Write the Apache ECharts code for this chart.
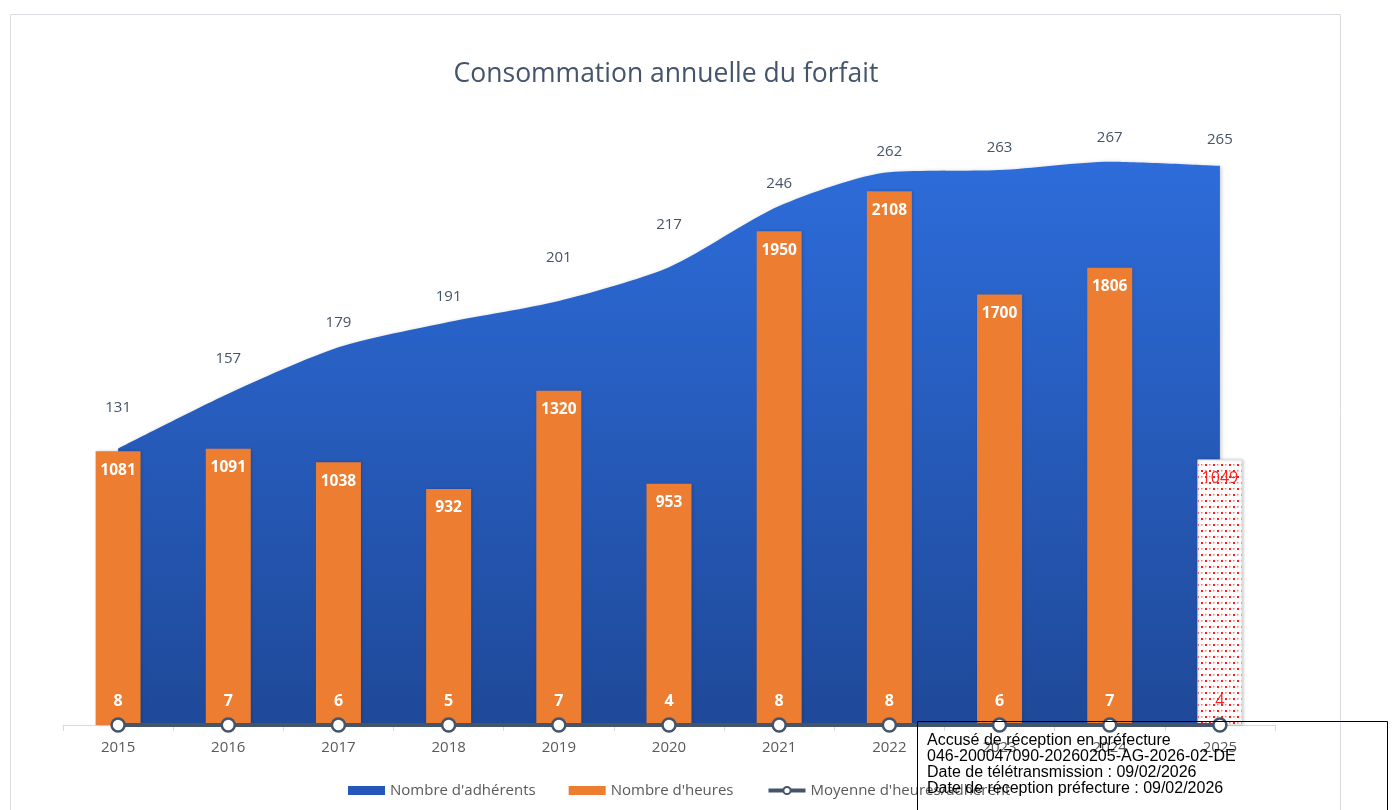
<!DOCTYPE html>
<html><head><meta charset="utf-8">
<script src="https://cdn.jsdelivr.net/npm/echarts@6/dist/echarts.min.js"></script>
<style>html,body{margin:0;padding:0;background:#fff}#c{width:1393px;height:810px}</style>
</head><body><div id="c"></div>
<script>
const years = ['2015','2016','2017','2018','2019','2020','2021','2022','2023','2024','2025'];
const adherents = [131,157,179,191,201,217,246,262,263,267,265];
const heures = [1081,1091,1038,932,1320,953,1950,2108,1700,1806,1049];
const moyenne = [8,7,6,5,7,4,8,8,6,7,4];
const stampLines = ['Accusé de réception en préfecture','046-200047090-20260205-AG-2026-02-DE','Date de télétransmission : 09/02/2026','Date de réception préfecture : 09/02/2026'];
// layout only: vertical nudges of the adherent value labels (px)
const adhLabelNudge = [-9,-3,7,7,-11,-10,10,12,10,8,6];

const pc = document.createElement('canvas');
pc.width = 8; pc.height = 12;
const pctx = pc.getContext('2d');
pctx.fillStyle = '#fff'; pctx.fillRect(0,0,8,12);
pctx.fillStyle = '#ff1a1a';
pctx.fillRect(1,2,2,2); pctx.fillRect(5,8,2,2);
pctx.fillStyle = '#ff7a7a';
pctx.fillRect(5,2,1.5,1.5); pctx.fillRect(1,8,1.5,1.5);
const pattern = {image: pc, repeat: 'repeat'};

const last = years.length - 1;
const chart = echarts.init(document.getElementById('c'));
chart.setOption({
  animation: false,
  backgroundColor: '#fff',
  title: {text: 'Consommation annuelle du forfait', left: 661, top: 56, textAlign: 'center',
    textStyle: {fontFamily: 'Open Sans', fontSize: 26.5, fontWeight: 'normal', color: '#44546a'}},
  grid: {left: 63, right: 118, top: 92, bottom: 85},
  legend: {left: 343, top: 778, itemGap: 33, itemWidth: 37, itemHeight: 9,
    textStyle: {fontFamily: 'Open Sans', fontSize: 15, color: '#595959'},
    data: [
      {name: "Nombre d'adhérents", icon: 'rect', itemStyle: {color: '#2557b8', opacity: 1}},
      {name: "Nombre d'heures", icon: 'rect'},
      {name: "Moyenne d'heures/adhérent", lineStyle: {width: 4, color: '#44546a'}}
    ]},
  xAxis: {type: 'category', data: years, boundaryGap: true,
    axisLine: {show: true, onZero: false, lineStyle: {color: '#d9d9d9', width: 1}},
    axisTick: {show: true, length: 6, lineStyle: {color: '#d9d9d9'}},
    axisLabel: {fontFamily: 'Open Sans', fontSize: 15, color: '#595959', margin: 15}},
  yAxis: [
    {type: 'value', min: 0, max: 300, show: false, splitLine: {show: false}},
    {type: 'value', min: 0, max: 2500, show: false, splitLine: {show: false}},
    {type: 'value', min: 0, max: 100000, show: false, splitLine: {show: false}}
  ],
  series: [
    {name: "Nombre d'adhérents", type: 'line', yAxisIndex: 0, smooth: 0.25,
      data: adherents.map((v, i) => ({value: v, label: {offset: [0, adhLabelNudge[i]]}})),
      symbol: 'circle', symbolSize: 1, showSymbol: true, z: 1,
      lineStyle: {width: 0},
      itemStyle: {color: '#2557b8', opacity: 0},
      areaStyle: {opacity: 1, shadowColor: 'rgba(0,0,0,0.25)', shadowBlur: 4, shadowOffsetX: 1, shadowOffsetY: 1,
        color: {type: 'linear', x: 0, y: 0, x2: 0, y2: 1, colorStops: [
          {offset: 0, color: '#2d6cda'}, {offset: 1, color: '#1f4999'}]}},
      label: {show: true, position: 'top', distance: 24, fontFamily: 'Open Sans', fontSize: 15, color: '#44546a', opacity: 1}},
    {name: "Nombre d'heures", type: 'bar', yAxisIndex: 1, barWidth: 45, z: 2,
      data: heures.map((v, i) => i === last ? {value: v,
        itemStyle: {color: pattern, borderColor: '#e4e4e4', borderWidth: 1},
        label: {color: '#ff2020', fontWeight: 'normal', fontSize: 16}} : v),
      itemStyle: {color: '#ed7d31', shadowColor: 'rgba(0,0,0,0.2)', shadowBlur: 3, shadowOffsetX: 1},
      label: {show: true, position: 'insideTop', distance: 11, fontFamily: 'Open Sans', fontSize: 15.5, fontWeight: 'bold', color: '#fff'}},
    {name: "Moyenne d'heures/adhérent", type: 'line', yAxisIndex: 2, z: 3,
      data: moyenne.map((v, i) => i === last ? {value: v, label: {color: '#ff2020', fontWeight: 'normal'}} : v),
      symbol: 'circle', symbolSize: 13, showAllSymbol: true,
      lineStyle: {color: '#44546a', width: 4},
      itemStyle: {color: '#fff', borderColor: '#44546a', borderWidth: 2.5},
      label: {show: true, position: 'top', distance: 8, fontFamily: 'Open Sans', fontSize: 16, fontWeight: 'bold', color: '#fff'}}
  ],
  graphic: [
    {type: 'rect', left: 8, top: 12, shape: {width: 1330, height: 810}, z: -10,
      style: {fill: 'none', stroke: '#d9dde3', lineWidth: 1}},
    {type: 'rect', left: 915, top: 719, shape: {width: 470, height: 100}, z: 100,
      style: {fill: 'none', stroke: '#000', lineWidth: 1}},
    {type: 'text', left: 927, top: 733, z: 101,
      style: {text: stampLines.join('\n'), fill: '#000', font: '16px "Liberation Sans", Arial', lineHeight: 16}}
  ]
});
</script></body></html>
